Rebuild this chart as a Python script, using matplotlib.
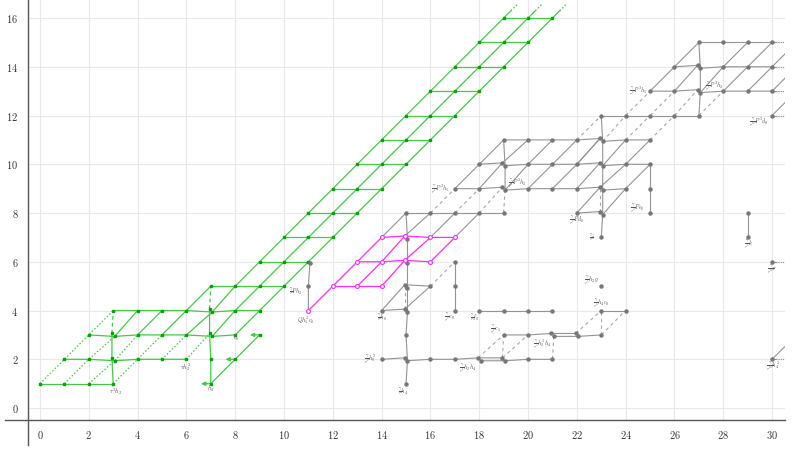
import matplotlib
matplotlib.use("Agg")
import matplotlib.pyplot as plt
from matplotlib.lines import Line2D

plt.rcParams['mathtext.fontset'] = 'cm'
plt.rcParams['font.family'] = ['DejaVu Serif']

# ---------------- data ----------------
x_ticks = list(range(0, 31, 2))
y_ticks = list(range(0, 17, 2))

# node = (stem, filtration[, 'u'|'l' for doubled classes])
green_nodes = [
    (0, 1), (1, 1), (2, 1), (3, 1), (7, 1),
    (1, 2), (2, 2), (3, 2, 'u'), (3, 2, 'l'), (4, 2), (5, 2), (6, 2), (7, 2), (8, 2),
    (2, 3), (3, 3, 'u'), (3, 3, 'l'), (4, 3), (5, 3), (6, 3), (7, 3, 'u'), (7, 3, 'l'), (8, 3), (9, 3),
    (3, 4), (4, 4), (5, 4), (6, 4), (7, 4, 'u'), (7, 4, 'l'), (8, 4), (9, 4),
    (7, 5), (8, 5), (9, 5), (10, 5),
    (9, 6), (10, 6), (11, 6), (10, 7), (11, 7), (12, 7), (11, 8), (12, 8), (13, 8),
    (12, 9), (13, 9), (14, 9), (13, 10), (14, 10), (15, 10), (14, 11), (15, 11), (16, 11),
    (15, 12), (16, 12), (17, 12), (16, 13), (17, 13), (18, 13), (17, 14), (18, 14), (19, 14),
    (18, 15), (19, 15), (20, 15), (19, 16), (20, 16), (21, 16),
]
green_solid = [
    [(0, 1), (1, 1), (2, 1), (3, 1)],
    [(1, 2), (2, 2), (3, 2, 'l'), (4, 2), (5, 2), (6, 2)],
    [(2, 3), (3, 3, 'l'), (4, 3), (5, 3), (6, 3), (7, 3, 'l'), (8, 3)],
    [(3, 4), (4, 4), (5, 4), (6, 4), (7, 4, 'l'), (8, 4), (9, 4)],
    [(7, 5), (8, 5), (9, 5), (10, 5)],
    [(9, 6), (11, 6)], [(10, 7), (12, 7)], [(11, 8), (13, 8)], [(12, 9), (14, 9)],
    [(13, 10), (15, 10)], [(14, 11), (16, 11)], [(15, 12), (17, 12)], [(16, 13), (18, 13)],
    [(17, 14), (19, 14)], [(18, 15), (20, 15)], [(19, 16), (21, 16)],
    [(3, 1), (3, 2, 'u'), (3, 3, 'u')],
    [(7, 1), (7, 2), (7, 3, 'u'), (7, 4, 'u')],
    [(3, 3, 'l'), (4, 4)], [(4, 3), (5, 4)], [(5, 3), (6, 4), (7, 5)],
    [(6, 3), (7, 4, 'l'), (8, 5), (19, 16)],
    [(7, 3, 'l'), (8, 4), (9, 5), (20, 16)],
    [(8, 3), (9, 4), (10, 5), (21, 16)],
    [(7, 1), (8, 2), (9, 3)],
]
green_dotted = [
    [(0, 1), (1, 2), (2, 3), (3, 4)],
    [(1, 1), (2, 2), (3, 3, 'l')],
    [(2, 1), (3, 2, 'l'), (4, 3)],
    [(3, 1), (4, 2), (5, 3)],
    [(5, 2), (6, 3)],
    [(6, 2), (7, 3, 'u')],
]
green_dashed = [[(3, 3, 'u'), (3, 4)], [(7, 4, 'u'), (7, 5)]]
green_arrows = [((7, 1), 6.6), ((8, 2), 7.6), ((9, 3), 8.6)]
green_ends = [(19, 16), (20, 16), (21, 16)]
green_labels = [(r'$\tau^2h_2$', 3.1, 0.68), (r'$\tau h_2^2$', 5.95, 1.68),
                (r'$h_3$', 7.0, 0.78), (r'$c_0$', 8.05, 2.83)]

magenta_nodes = [(11, 4), (12, 5), (13, 5), (14, 5), (13, 6), (14, 6), (15, 6, 'u'), (16, 6),
                 (14, 7), (15, 7, 'u'), (16, 7), (17, 7)]
magenta_lines = [
    [(12, 5), (13, 5), (14, 5)],
    [(13, 6), (14, 6), (15, 6, 'u'), (16, 6)],
    [(14, 7), (15, 7, 'u'), (16, 7), (17, 7)],
    [(11, 4), (12, 5), (13, 6), (14, 7)],
    [(13, 5), (14, 6), (15, 7, 'u')],
    [(14, 5), (15, 6, 'u'), (16, 7)],
    [(16, 6), (17, 7)],
]

gray_nodes = [
    (11, 5), (11, 6, 'l'),
    (15, 1), (14, 2), (15, 2, 'u'), (15, 2, 'l'), (16, 2), (17, 2), (18, 2, 'u'), (18, 2, 'l'),
    (19, 2, 'u'), (19, 2, 'l'), (20, 2), (21, 2), (30, 2),
    (15, 3), (19, 3), (20, 3), (21, 3, 'u'), (21, 3, 'l'), (22, 3, 'u'), (22, 3, 'l'), (23, 3),
    (14, 4), (15, 4, 'u'), (15, 4, 'l'), (17, 4), (18, 4), (19, 4), (20, 4), (21, 4), (23, 4), (24, 4),
    (15, 5, 'u'), (15, 5, 'l'), (16, 5), (17, 5), (23, 5),
    (15, 6, 'l'), (17, 6), (30, 6),
    (15, 7, 'l'), (23, 7), (29, 7),
    (15, 8), (16, 8), (17, 8), (18, 8), (19, 8), (22, 8), (23, 8, 'u'), (23, 8, 'l'), (25, 8), (29, 8),
    (17, 9), (18, 9), (19, 9, 'u'), (19, 9, 'l'), (20, 9), (21, 9), (22, 9), (23, 9, 'u'), (23, 9, 'l'),
    (24, 9), (25, 9),
    (18, 10), (19, 10, 'u'), (19, 10, 'l'), (20, 10), (21, 10), (22, 10), (23, 10, 'u'), (23, 10, 'l'),
    (24, 10), (25, 10),
    (19, 11), (20, 11), (21, 11), (22, 11), (23, 11, 'u'), (23, 11, 'l'), (24, 11), (25, 11),
    (23, 12), (24, 12), (25, 12), (26, 12), (27, 12), (30, 12),
    (25, 13), (26, 13), (27, 13, 'u'), (27, 13, 'l'), (28, 13), (29, 13), (30, 13),
    (26, 14), (27, 14, 'u'), (27, 14, 'l'), (28, 14), (29, 14), (30, 14),
    (27, 15), (28, 15), (29, 15), (30, 15),
]
gray_solid = [
    [(11, 4), (11, 5), (11, 6, 'l')],
    [(15, 1), (15, 2, 'l'), (15, 3), (15, 4, 'l'), (15, 5, 'l'), (15, 6, 'l'), (15, 7, 'l'), (15, 8)],
    [(14, 2), (15, 2, 'u')],
    [(15, 2, 'l'), (16, 2), (17, 2), (18, 2, 'u'), (19, 2, 'u')],
    [(18, 2, 'l'), (19, 2, 'l'), (20, 2), (21, 2)],
    [(19, 3), (20, 3), (21, 3, 'u'), (22, 3, 'u')],
    [(21, 3, 'l'), (22, 3, 'l'), (23, 3)],
    [(14, 4), (15, 4, 'u')], [(14, 4), (15, 5, 'u'), (16, 5)], [(15, 4, 'u'), (16, 5)],
    [(17, 4), (17, 5), (17, 6)],
    [(18, 4), (19, 4), (20, 4), (21, 4)], [(23, 4), (24, 4)],
    [(14, 7), (15, 8)], [(15, 7, 'u'), (16, 8)], [(16, 7), (17, 8)], [(17, 7), (18, 8)],
    [(15, 8), (16, 8), (17, 8), (18, 8), (19, 8)],
    [(17, 9), (18, 9), (19, 9, 'u')], [(19, 9, 'l'), (20, 9), (21, 9), (22, 9), (23, 9, 'u')],
    [(23, 9, 'l'), (24, 9)],
    [(18, 10), (19, 10, 'u')], [(19, 10, 'l'), (20, 10), (21, 10), (22, 10), (23, 10, 'u')],
    [(23, 10, 'l'), (24, 10), (25, 10)],
    [(19, 11), (20, 11), (21, 11), (22, 11), (23, 11, 'u')], [(23, 11, 'l'), (24, 11), (25, 11)],
    [(17, 9), (18, 10), (19, 11)], [(18, 9), (19, 10, 'u'), (20, 11)], [(19, 9, 'l'), (20, 10), (21, 11)],
    [(20, 9), (21, 10), (22, 11)], [(21, 9), (22, 10), (23, 11, 'u')],
    [(22, 9), (23, 10, 'u')], [(23, 9, 'u'), (24, 10), (25, 11)], [(24, 9), (25, 10)],
    [(22, 10), (23, 11, 'u')], [(23, 10, 'l'), (24, 11)],
    [(19, 9, 'l'), (19, 10, 'l'), (19, 11)],
    [(23, 7), (23, 8, 'l'), (23, 9, 'l'), (23, 10, 'l'), (23, 11, 'l'), (23, 12)],
    [(22, 8), (23, 8, 'u')], [(22, 8), (23, 9, 'u')], [(23, 8, 'l'), (24, 9)],
    [(25, 8), (25, 9), (25, 10)],
    [(23, 12), (24, 12), (25, 12), (26, 12), (27, 12)],
    [(25, 13), (26, 13), (27, 13, 'u')], [(27, 13, 'l'), (28, 13), (29, 13), (30, 13)],
    [(26, 14), (27, 14, 'u')], [(27, 14, 'l'), (28, 14), (29, 14), (30, 14)],
    [(27, 15), (28, 15), (29, 15), (30, 15)],
    [(25, 13), (26, 14), (27, 15)], [(26, 13), (27, 14, 'u')],
    [(27, 13, 'l'), (28, 14), (29, 15)], [(28, 13), (29, 14), (30, 15)], [(29, 13), (30, 14)],
    [(27, 12), (27, 13, 'l'), (27, 14, 'l'), (27, 15)],
    [(29, 7), (29, 8)],
]
gray_dashed = [
    [(15, 4, 'u'), (15, 5, 'u')],
    [(18, 2, 'u'), (19, 3)], [(19, 2, 'u'), (20, 3)], [(19, 2, 'u'), (19, 3)],
    [(21, 2), (21, 3, 'l')],
    [(22, 3, 'u'), (23, 4)], [(23, 3), (24, 4)], [(23, 3), (23, 4)],
    [(16, 5), (17, 6)],
    [(16, 8), (17, 9)], [(17, 8), (18, 9)], [(18, 8), (19, 9, 'u')], [(19, 8), (19, 9, 'l')],
    [(23, 8, 'u'), (23, 9, 'u')],
    [(22, 11), (23, 12)], [(23, 11, 'l'), (24, 12)], [(24, 11), (25, 12)], [(25, 11), (26, 12)],
    [(24, 12), (25, 13)], [(25, 12), (26, 13)], [(26, 12), (27, 13, 'u')], [(27, 12), (28, 13)],
]
gray_more = [(30, 2), (30, 6), (30, 12), (30, 13), (30, 14), (30, 15)]
gray_diag_more = [(30, 2), (30, 12), (30, 13), (30, 14)]
gray_labels = [
    (r'$\frac{\gamma}{\tau}Ph_2$', 10.5, 4.8), (r'$Qh_1^2c_0$', 10.9, 3.6),
    (r'$\frac{\gamma}{\tau}h_0$', 14.0, 3.72), (r'$\frac{\gamma}{\tau^3}c_0$', 16.8, 3.72),
    (r'$\frac{\gamma}{\tau}f_0$', 17.8, 3.72), (r'$\frac{\gamma}{\tau^2}h_0^2$', 13.55, 1.98),
    (r'$\frac{\gamma}{\tau^4}h_2h_4$', 17.55, 1.64), (r'$\frac{\gamma}{\tau}h_4$', 14.9, 0.68),
    (r'$\frac{\gamma}{\tau^2}c_1$', 18.65, 3.24), (r'$\frac{\gamma}{\tau^5}h_2^2h_4$', 20.6, 2.62),
    (r'$\frac{\gamma}{\tau^6}h_4c_0$', 23.0, 4.3), (r'$\frac{\gamma}{\tau^5}h_2g$', 22.6, 5.26),
    (r'$\frac{\gamma}{\tau^{10}}r$', 30.0, 5.7), (r'$\frac{\gamma}{\tau^{10}}h_4^2$', 30.05, 1.7),
    (r'$\frac{\gamma}{\tau^7}k$', 29.05, 6.7), (r'$\frac{\gamma}{\tau}i$', 22.65, 7.0),
    (r'$\frac{\gamma}{\tau^2}Pd_0$', 22.0, 7.72), (r'$\frac{\gamma}{\tau^2}Pe_0$', 24.5, 8.2),
    (r'$\frac{\gamma}{\tau^4}P^2h_1$', 16.4, 8.98), (r'$\frac{\gamma}{\tau^4}P^2h_2$', 19.55, 9.2),
    (r'$\frac{\gamma}{\tau^8}P^3h_1$', 24.5, 13.0), (r'$\frac{\gamma}{\tau^8}P^3h_2$', 27.65, 13.18),
    (r'$\frac{\gamma}{\tau^{10}}P^3d_0$', 29.45, 11.72),
]

# ---------------- drawing ----------------
OFF = {'u': (-0.05, 0.06), 'l': (0.06, -0.06)}


def P(n):
    if len(n) > 2:
        return n[0] + OFF[n[2]][0], n[1] + OFF[n[2]][1]
    return float(n[0]), float(n[1])


def polys(ax, lines, **kw):
    for pl in lines:
        xs, ys = zip(*[P(n) for n in pl])
        ax.plot(xs, ys, **kw)


GREEN_L = '#45c845'
GREEN_N = '#00a300'
GRAY_L = '#939393'
GRAY_N = '#777777'
MAG = '#ff2bff'

fig = plt.figure(figsize=(7.92, 4.49), dpi=100)
ax = fig.add_axes([28 / 792, 29 / 449, 757 / 792, 420 / 449])
ax.set_xlim(-0.49, 30.53)
ax.set_ylim(-0.49, 16.74)
for s in ax.spines.values():
    s.set_visible(False)
ax.set_xticks(x_ticks)
ax.set_yticks(y_ticks)
ax.set_xticklabels([f'${v}$' for v in x_ticks])
ax.set_yticklabels([f'${v}$' for v in y_ticks])
ax.tick_params(length=0, labelsize=7.5, labelcolor='#333333')
ax.tick_params(axis='x', pad=6.5)
ax.tick_params(axis='y', pad=7)
ax.grid(True, color='#e8e8e8', lw=0.8)
ax.set_axisbelow(True)

fig.add_artist(Line2D([28 / 792, 28 / 792], [4 / 449, 1], transform=fig.transFigure,
                      color='#555555', lw=1.0))
fig.add_artist(Line2D([5 / 792, 785 / 792], [29 / 449, 29 / 449], transform=fig.transFigure,
                      color='#555555', lw=1.0))

# green
polys(ax, green_solid, color=GREEN_L, lw=0.9, zorder=2)
polys(ax, green_dotted, color=GREEN_L, lw=0.9, ls=(0, (1.2, 1.6)), zorder=2)
polys(ax, green_dashed, color=GREEN_L, lw=0.9, ls=(0, (3, 2.5)), zorder=2)
for n in green_ends:
    x, y = P(n)
    ax.plot([x, x + 0.3], [y, y + 0.3], color=GREEN_L, lw=0.9, zorder=2)
    ax.plot([x + 0.3, x + 0.6], [y + 0.3, y + 0.6], color=GREEN_L, lw=0.9,
            ls=(0, (1.2, 1.6)), zorder=2)
for n, xe in green_arrows:
    x, y = P(n)
    ax.annotate('', xy=(xe, y), xytext=(x, y),
                arrowprops=dict(arrowstyle='-|>,head_length=0.25,head_width=0.12',
                                color=GREEN_L, lw=0.9, shrinkA=0, shrinkB=0), zorder=2)
gx, gy = zip(*[P(n) for n in green_nodes])
ax.plot(gx, gy, ls='none', marker='s', ms=2.0, color=GREEN_N, mec=GREEN_N, zorder=4)
for t, x, y in green_labels:
    ax.text(x, y, t, fontsize=4.5, color='#555555', ha='center', va='center', zorder=5)

# gray
polys(ax, gray_solid, color=GRAY_L, lw=0.8, zorder=2)
polys(ax, gray_dashed, color='#a6a6a6', lw=0.8, ls=(0, (3, 3)), zorder=2)
for n in gray_more:
    x, y = P(n)
    ax.plot([x, x + 0.45], [y, y], color=GRAY_L, lw=0.8, zorder=2)
    ax.plot([x + 0.22, x + 0.5], [y, y], color='white', lw=0.8, ls=(0, (0.8, 1.2)), zorder=2)
for n in gray_diag_more:
    x, y = P(n)
    ax.plot([x, x + 0.55], [y, y + 0.55], color=GRAY_L, lw=0.8, zorder=2)
nx, ny = zip(*[P(n) for n in gray_nodes])
ax.plot(nx, ny, ls='none', marker='o', ms=2.2, color=GRAY_N, mec=GRAY_N, zorder=4)
for t, x, y in gray_labels:
    ax.text(x, y, t, fontsize=4.2, color='#555555', ha='center', va='center', zorder=5)

# magenta
polys(ax, magenta_lines, color=MAG, lw=0.9, zorder=3)
mx, my = zip(*[P(n) for n in magenta_nodes])
ax.plot(mx, my, ls='none', marker='o', ms=2.8, mfc='white', mec=MAG, mew=0.8, zorder=5)

fig.savefig('out.png', dpi=100)
